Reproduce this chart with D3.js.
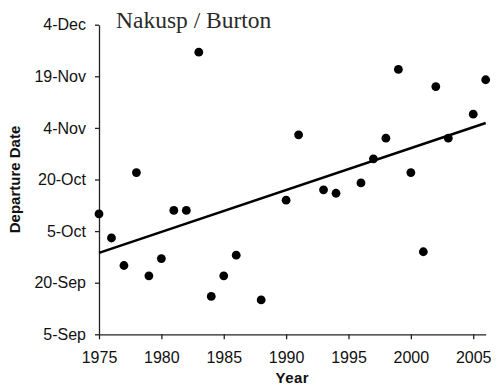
<!DOCTYPE html>
<html>
<head>
<meta charset="utf-8">
<script src="https://cdn.jsdelivr.net/npm/d3@7"></script>
<style>
  html, body { margin: 0; padding: 0; background: #fff; }
  svg { display: block; }
</style>
</head>
<body>
<svg id="chart" width="497" height="385"></svg>
<script>
// Fall departure dates at Nakusp / Burton, by year
const years = [1975, 1976, 1977, 1978, 1979, 1980, 1981, 1982, 1983, 1984, 1985, 1986,
               1988, 1990, 1991, 1993, 1994, 1996, 1997, 1998, 1999, 2000, 2001, 2002,
               2003, 2005, 2006];
const departures = ["10-Oct", "3-Oct", "25-Sep", "22-Oct", "22-Sep", "27-Sep", "11-Oct", "11-Oct",
                    "26-Nov", "16-Sep", "22-Sep", "28-Sep", "15-Sep", "14-Oct", "2-Nov", "17-Oct",
                    "16-Oct", "19-Oct", "26-Oct", "1-Nov", "21-Nov", "22-Oct", "29-Sep", "16-Nov",
                    "1-Nov", "8-Nov", "18-Nov"];
const yTickLabels = ["5-Sep", "20-Sep", "5-Oct", "20-Oct", "4-Nov", "19-Nov", "4-Dec"];
const xTickLabels = [1975, 1980, 1985, 1990, 1995, 2000, 2005];
const yearRange = [1975, 2006];
const titleText = "Nakusp / Burton";

// All dates are placed on one common (non-leap) calendar year
const parseDay = s => d3.timeParse("%d-%b-%Y")(s + "-2001");
const fmtDay = d3.timeFormat("%-d-%b");

const svg = d3.select("#chart");
const margin = { top: 24.7, right: 11.3, bottom: 50.7, left: 99 };
const W = 497, H = 385;

const x = d3.scaleLinear().domain(yearRange).range([margin.left, W - margin.right]);
const yTicks = yTickLabels.map(parseDay);
const y = d3.scaleTime()
  .domain([yTicks[0], yTicks[yTicks.length - 1]])
  .range([H - margin.bottom, margin.top]);

const points = years.map((yr, i) => ({ year: yr, date: parseDay(departures[i]) }));

// Axes
const gx = svg.append("g")
  .attr("transform", `translate(0,${H - margin.bottom})`)
  .call(d3.axisBottom(x).tickValues(xTickLabels).tickFormat(d3.format("d"))
    .tickSize(5).tickPadding(12).tickSizeOuter(0));
const gy = svg.append("g")
  .attr("transform", `translate(${margin.left},0)`)
  .call(d3.axisLeft(y).tickValues(yTicks).tickFormat(fmtDay)
    .tickSize(4).tickPadding(9).tickSizeOuter(0));

[gx, gy].forEach(g => {
  g.selectAll(".domain, .tick line").attr("stroke", "#222").attr("stroke-width", 1.3);
  g.selectAll(".tick text")
    .attr("font-family", "'Liberation Sans', Arial, sans-serif")
    .attr("font-size", 16)
    .attr("fill", "#111");
});

// Least-squares trend of departure day against year
const dayOf = d => (d - yTicks[0]) / 864e5;
const mx = d3.mean(points, p => p.year);
const my = d3.mean(points, p => dayOf(p.date));
const sxy = d3.sum(points, p => (p.year - mx) * (dayOf(p.date) - my));
const sxx = d3.sum(points, p => (p.year - mx) ** 2);
const slope = sxy / sxx;
const fitAt = yr => new Date(yTicks[0].getTime() + (my + slope * (yr - mx)) * 864e5);

svg.append("path")
  .datum(yearRange)
  .attr("fill", "none")
  .attr("stroke", "#000")
  .attr("stroke-width", 2.6)
  .attr("d", d3.line().x(yr => x(yr)).y(yr => y(fitAt(yr))));

// Yearly departure points
svg.append("g").selectAll("circle")
  .data(points)
  .join("circle")
  .attr("cx", p => x(p.year))
  .attr("cy", p => y(p.date))
  .attr("r", 4.4)
  .attr("fill", "#000");

// Titles
svg.append("text")
  .attr("x", 116).attr("y", 28)
  .attr("font-family", "'Liberation Serif', 'Times New Roman', serif")
  .attr("font-size", 23.5)
  .attr("fill", "#2a2a2a")
  .text(titleText);

svg.append("text")
  .attr("x", (margin.left + W - margin.right) / 2).attr("y", 383)
  .attr("text-anchor", "middle")
  .attr("font-family", "'Liberation Sans', Arial, sans-serif")
  .attr("font-size", 15).attr("font-weight", "bold")
  .attr("letter-spacing", 0.5)
  .attr("fill", "#111")
  .text("Year");

svg.append("text")
  .attr("transform", `translate(20,${(margin.top + H - margin.bottom) / 2}) rotate(-90)`)
  .attr("text-anchor", "middle")
  .attr("font-family", "'Liberation Sans', Arial, sans-serif")
  .attr("font-size", 15).attr("font-weight", "bold")
  .attr("fill", "#111")
  .text("Departure Date");
</script>
</body>
</html>
